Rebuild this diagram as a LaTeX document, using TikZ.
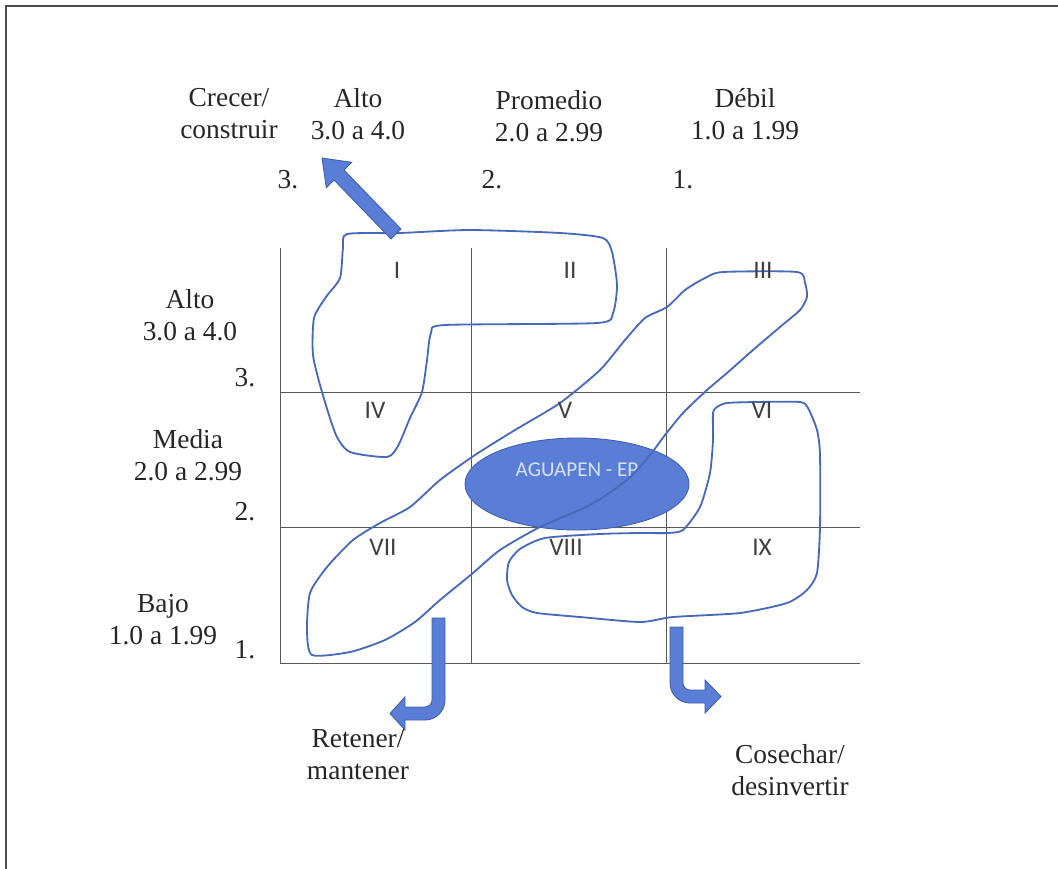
\documentclass[tikz,border=0pt]{standalone}
\usepackage{fontspec}
\setmainfont{Liberation Serif}
\newfontfamily\cellfont{Carlito}
\usetikzlibrary{shapes.geometric}
\definecolor{zoneline}{RGB}{72,104,184}
\definecolor{markfill}{RGB}{90,126,214}
\definecolor{markedge}{RGB}{62,92,172}
\begin{document}
\begin{tikzpicture}[x=0.025cm, y=-0.025cm,
    heading/.style={align=center, inner sep=0pt, text=black!85, font=\fontsize{19.5}{22.8}\selectfont},
    axisnum/.style={inner sep=0pt, text=black!85, font=\fontsize{19.5}{22.8}\selectfont},
    cell/.style={inner sep=0pt, text=black!75, font=\cellfont\fontsize{18}{21}\selectfont},
    gridline/.style={draw=black!65, line width=0.6pt},
    zone/.style={draw=zoneline, line width=1.3pt},
    bigarrow/.style={fill=markfill, draw=markedge, line width=0.6pt}
]
\useasboundingbox (0,0) rectangle (1058,868);
% Outer frame
\draw[black!70, line width=1.5pt] (6,890) -- (6,6) -- (1080,6);

% Grid lines
\draw[gridline] (280,248) -- (280,663);
\draw[gridline] (471,248) -- (471,663);
\draw[gridline] (666,248) -- (666,663);
\draw[gridline] (280,392) -- (860,392);
\draw[gridline] (280,527) -- (860,527);
\draw[gridline] (280,663) -- (860,663);

% Position of the company
\node[ellipse, fill=markfill, draw=markedge, line width=0.6pt, minimum width=5.6cm, minimum height=2.3cm,
      text depth=20pt, text={rgb,255:red,215;green,225;blue,245}, font=\cellfont\fontsize{15}{18}\selectfont]
      (company) at (577,484) {AGUAPEN - EP};

% Zones drawn by hand
\draw[zone] plot[smooth cycle, tension=0.4] coordinates {
    (343,248) (347,234) (400,233) (470,230) (560,233) (603,238) (612,252) (617,285) (613,313)
    (597,323) (445,325) (431,333) (427,360) (422,392) (410,418) (398,446) (387,457) (350,452)
    (336,435) (322,392) (313,355) (314,318) (326,297) (340,278)};
\draw[zone] plot[smooth cycle, tension=0.4] coordinates {
    (723,272) (797,272) (805,283) (807,297) (800,310) (780,327) (753,350) (727,373) (707,390)
    (683,413) (665,435) (650,455) (627,480) (590,505) (540,527) (500,550) (473,573) (440,600)
    (415,622) (385,640) (350,652) (312,655) (307,630) (310,593) (327,567) (353,540) (380,523)
    (410,507) (440,480) (475,455) (515,430) (560,403) (600,370) (625,340) (645,318) (667,307)
    (685,290) (705,278)};
\draw[zone] plot[smooth cycle, tension=0.4] coordinates {
    (717,407) (727,403) (757,402) (800,402) (808,408) (817,430) (820,455) (820,527) (817,573)
    (807,590) (787,603) (740,613) (673,617) (640,622) (580,617) (537,613) (522,607) (512,595)
    (507,580) (509,562) (520,549) (545,538) (600,534) (640,533) (667,533) (683,530) (700,507)
    (710,473) (713,440) (713,413)};

% Strategy arrows
\filldraw[bigarrow] (401,229) -- (344,170) -- (351.7,162.3) -- (322,158) -- (326.3,187.7)
    -- (334,180) -- (391,239) -- cycle;
\filldraw[bigarrow] (432,618) -- (445,618) -- (445,700) arc[start angle=0, end angle=90, radius=20]
    -- (405,720) -- (405,730) -- (390,713.5) -- (405,697) -- (405,707) -- (425,707)
    arc[start angle=90, end angle=0, radius=7] -- cycle;
\filldraw[bigarrow] (683,627) -- (670,627) -- (670,683) arc[start angle=180, end angle=90, radius=20]
    -- (705,703) -- (705,713) -- (721,696.5) -- (705,680) -- (705,690) -- (690,690)
    arc[start angle=90, end angle=180, radius=7] -- cycle;

% Cell numbers
\node[cell] (cellI) at (397,270) {I};
\node[cell] (cellII) at (570,270) {II};
\node[cell] (cellIII) at (763,270) {III};
\node[cell] (cellIV) at (375,410) {IV};
\node[cell] (cellV) at (565,410) {V};
\node[cell] (cellVI) at (762,410) {VI};
\node[cell] (cellVII) at (383,547) {VII};
\node[cell] (cellVIII) at (566,547) {VIII};
\node[cell] (cellIX) at (762,547) {IX};

% Column headings
\node[heading] (grow) at (229,114) {Crecer/\\construir};
\node[heading] (colhigh) at (358,114) {Alto\\3.0 a 4.0};
\node[heading] (colmid) at (549,116) {Promedio\\2.0 a 2.99};
\node[heading] (collow) at (745,114) {Débil\\1.0 a 1.99};
\node[axisnum] (col3) at (288,180) {3.};
\node[axisnum] (col2) at (492,180) {2.};
\node[axisnum] (col1) at (683,180) {1.};

% Row headings
\node[heading] (rowhigh) at (190,315) {Alto\\3.0 a 4.0};
\node[axisnum] (row3) at (245,378) {3.};
\node[heading] (rowmid) at (188,455) {Media\\2.0 a 2.99};
\node[axisnum] (row2) at (245,512) {2.};
\node[heading] (rowlow) at (163,620) {Bajo\\1.0 a 1.99};
\node[axisnum] (row1) at (245,650) {1.};

% Strategy names
\node[heading] (hold) at (358,755) {Retener/\\mantener};
\node[heading] (harvest) at (790,770) {Cosechar/\\desinvertir};
\end{tikzpicture}
\end{document}
